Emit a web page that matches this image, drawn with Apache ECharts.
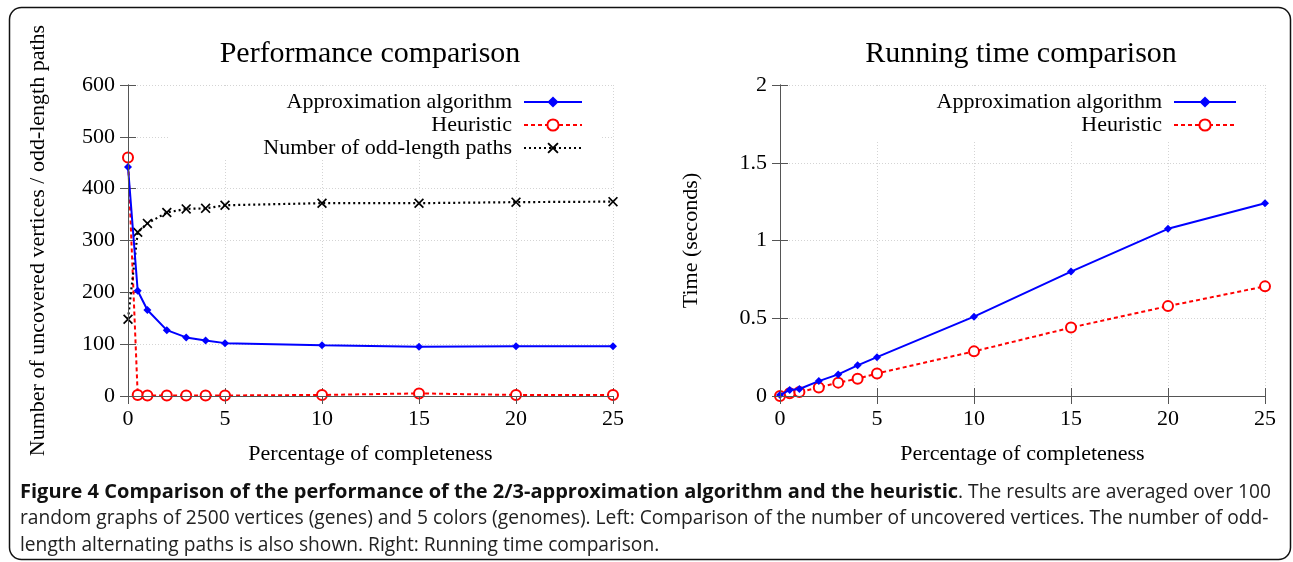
<!DOCTYPE html>
<html>
<head>
<meta charset="utf-8">
<script src="https://cdn.jsdelivr.net/npm/echarts@6/dist/echarts.min.js"></script>
<style>
html,body{margin:0;padding:0;background:#fff;}
#chart{width:1293px;height:562px;}
</style>
</head>
<body>
<div id="chart"></div>
<script>
// ---- data ----
var xPct = [0, 0.5, 1, 2, 3, 4, 5, 10, 15, 20, 25];
var uncoveredApprox = [442, 203, 166, 127, 113, 107, 102, 98, 95, 96, 96];
var uncoveredHeur = [460, 2, 1, 1, 1, 1, 1, 2, 5, 2, 2];
var oddPaths = [148, 316, 333, 354, 361, 362, 368, 372, 372, 374, 375];
var timeApprox = [0.006, 0.039, 0.045, 0.096, 0.139, 0.197, 0.25, 0.51, 0.8, 1.075, 1.24];
var timeHeur = [0, 0.017, 0.026, 0.054, 0.086, 0.111, 0.145, 0.287, 0.44, 0.578, 0.705];

var leftTitle = 'Performance comparison';
var rightTitle = 'Running time comparison';
var xName = 'Percentage of completeness';
var leftYName = 'Number of uncovered vertices / odd-length paths';
var rightYName = 'Time (seconds)';
var nameApprox = 'Approximation algorithm';
var nameHeur = 'Heuristic';
var nameOdd = 'Number of odd-length paths';
var captionBold = 'Figure 4 Comparison of the performance of the 2/3-approximation algorithm and the heuristic';
var captionLines = [
  '. The results are averaged over 100',
  'random graphs of 2500 vertices (genes) and 5 colors (genomes). Left: Comparison of the number of uncovered vertices. The number of odd-',
  'length alternating paths is also shown. Right: Running time comparison.'
];

function pairs(xs, ys) { return xs.map(function (x, i) { return [x, ys[i]]; }); }

var SERIF = 'Liberation Serif';
var axisColor = '#555';
var crossPath = 'path://M0,1.2L1.2,0L5,3.8L8.8,0L10,1.2L6.2,5L10,8.8L8.8,10L5,6.2L1.2,10L0,8.8L3.8,5Z';

function mainX(gi) {
  return {
    type: 'value', gridIndex: gi, min: 0, max: 25, interval: 5, position: 'bottom',
    name: xName, nameLocation: 'middle', nameGap: 47,
    nameTextStyle: { fontFamily: SERIF, fontSize: 22, color: '#000' },
    axisLine: { show: true, lineStyle: { color: axisColor, width: 1 } },
    axisTick: { show: true, inside: true, length: 8, lineStyle: { color: axisColor } },
    axisLabel: { fontFamily: SERIF, fontSize: 22, color: '#000', margin: 12 },
    splitLine: { show: true, lineStyle: { color: '#d4d4d4', type: [1, 2], width: 1 } }
  };
}
function mirrorX(gi) {
  return {
    type: 'value', gridIndex: gi, min: 0, max: 25, interval: 5, position: 'top', z: 6,
    axisLine: { show: true, lineStyle: { color: axisColor, width: 1 } },
    axisTick: { show: true, inside: true, length: 8, lineStyle: { color: axisColor } },
    axisLabel: { show: false }, splitLine: { show: false }
  };
}
function mainY(gi, max, interval, name, gap) {
  return {
    type: 'value', gridIndex: gi, min: 0, max: max, interval: interval, position: 'left',
    name: name, nameLocation: 'middle', nameGap: gap,
    nameTextStyle: { fontFamily: SERIF, fontSize: 22, color: '#000' },
    axisLine: { show: true, lineStyle: { color: axisColor, width: 1 } },
    axisTick: { show: true, inside: true, length: 8, lineStyle: { color: axisColor } },
    axisLabel: { fontFamily: SERIF, fontSize: 22, color: '#000', margin: 13 },
    splitLine: { show: true, lineStyle: { color: '#d4d4d4', type: [1, 2], width: 1 } }
  };
}
function mirrorY(gi, max, interval) {
  return {
    type: 'value', gridIndex: gi, min: 0, max: max, interval: interval, position: 'right', z: 6,
    axisLine: { show: true, lineStyle: { color: axisColor, width: 1 } },
    axisTick: { show: true, inside: true, length: 8, lineStyle: { color: axisColor } },
    axisLabel: { show: false }, splitLine: { show: false }
  };
}

function approxSeries(name, xi, yi, data) {
  return {
    type: 'line', name: name, xAxisIndex: xi, yAxisIndex: yi, data: data,
    symbol: 'diamond', symbolSize: 8, showSymbol: true,
    lineStyle: { color: '#0000ff', width: 2 },
    itemStyle: { color: '#0000ff' }, z: 3
  };
}
function heurSeries(name, xi, yi, data) {
  return {
    type: 'line', name: name, xAxisIndex: xi, yAxisIndex: yi, data: data,
    symbol: 'emptyCircle', symbolSize: 10, showSymbol: true,
    lineStyle: { color: '#ff0000', width: 2, type: [4, 3] },
    itemStyle: { color: '#ff0000', borderWidth: 2 }, z: 2
  };
}

var chart = echarts.init(document.getElementById('chart'), null, { renderer: 'canvas' });
var option = {
  animation: false,
  backgroundColor: '#fff',
  title: [
    { text: leftTitle, left: 370, top: 39, textAlign: 'center', padding: 0,
      textStyle: { fontFamily: SERIF, fontSize: 30, fontWeight: 'normal', color: '#000' } },
    { text: rightTitle, left: 1021, top: 39, textAlign: 'center', padding: 0,
      textStyle: { fontFamily: SERIF, fontSize: 30, fontWeight: 'normal', color: '#000' } },
    { left: 20, top: 479, padding: 0,
      text: '{b|' + captionBold + '}{n|' + captionLines[0] + '}\n{n|' + captionLines[1] + '}\n{n|' + captionLines[2] + '}',
      textStyle: {
        rich: {
          b: { fontFamily: 'Open Sans', fontWeight: 'bold', fontSize: 20, color: '#111', lineHeight: 26.5 },
          n: { fontFamily: 'Open Sans', fontWeight: 'normal', fontSize: 19.2, color: '#222', lineHeight: 26.5 }
        }
      } }
  ],
  grid: [
    { left: 128, right: 680, top: 85, bottom: 166 },
    { left: 780, right: 28, top: 85, bottom: 166 }
  ],
  xAxis: [mainX(0), mirrorX(0), mainX(1), mirrorX(1)],
  yAxis: [
    mainY(0, 600, 100, leftYName, 79), mirrorY(0, 600, 100),
    mainY(1, 2, 0.5, rightYName, 78), mirrorY(1, 2, 0.5)
  ],
  legend: [
    { data: [nameApprox, nameHeur, nameOdd], orient: 'vertical', align: 'right',
      right: 693, top: 88, itemGap: 0, itemWidth: 58, itemHeight: 14,
      backgroundColor: '#fff', padding: [2.5, 17, 0, 95], selectedMode: false,
      textStyle: { fontFamily: SERIF, fontSize: 22, color: '#000', lineHeight: 23, padding: [0, 7, 0, 0] } },
    { data: [nameApprox, nameHeur], orient: 'vertical', align: 'right',
      right: 43, top: 88, itemGap: 0, itemWidth: 62, itemHeight: 14,
      backgroundColor: '#fff', padding: [2.5, 13, 5.5, 70], selectedMode: false,
      textStyle: { fontFamily: SERIF, fontSize: 22, color: '#000', lineHeight: 23, padding: [0, 7, 0, 0] } }
  ],
  series: [
    approxSeries(nameApprox, 0, 0, pairs(xPct, uncoveredApprox)),
    heurSeries(nameHeur, 0, 0, pairs(xPct, uncoveredHeur)),
    {
      type: 'line', name: nameOdd, xAxisIndex: 0, yAxisIndex: 0, data: pairs(xPct, oddPaths),
      symbol: crossPath, symbolSize: 10, showSymbol: true,
      lineStyle: { color: '#000', width: 2.2, type: [2, 3] },
      itemStyle: { color: '#000' }, z: 2
    },
    approxSeries(nameApprox, 2, 2, pairs(xPct, timeApprox)),
    heurSeries(nameHeur, 2, 2, pairs(xPct, timeHeur))
  ],
  graphic: [
    { type: 'rect', silent: true, z: 100,
      shape: { x: 9.5, y: 7.5, width: 1281, height: 552, r: 12 },
      style: { fill: 'none', stroke: '#111', lineWidth: 1.5 } }
  ]
};
chart.setOption(option);
</script>
</body>
</html>
